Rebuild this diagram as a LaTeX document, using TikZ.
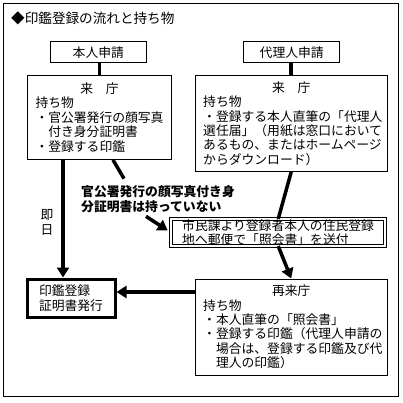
\documentclass[tikz,border=0pt]{standalone}
\usepackage{fontspec}
\setmainfont{Noto Sans CJK JP}
\usetikzlibrary{arrows.meta, positioning, calc}
\tikzset{
	apply/.style ={rectangle, draw=black, line width=1pt, minimum width=96pt, minimum height=21pt, inner sep=0pt},
	visit/.style ={rectangle, draw=black, line width=1pt, align=left, inner xsep=8pt, inner ysep=0pt},
	result/.style={rectangle, draw=black, line width=3pt, minimum width=88pt, minimum height=38pt, align=left, inner sep=0pt},
	notice/.style={rectangle, draw=black, line width=0.9pt, double, double distance=2pt, text width=192pt, inner xsep=11pt, inner ysep=0pt, minimum height=23pt, align=left},
	remark/.style={align=left, inner sep=0pt, font=\fontsize{12.8pt}{15pt}\selectfont\bfseries},
	link/.style  ={line width=3.5pt},
	flow/.style  ={line width=3.5pt, -{Triangle[length=10pt, width=12pt]}},
}

\begin{document}
\begin{tikzpicture}[x=1pt, y=-1pt, font=\fontsize{12.8pt}{14.4pt}\selectfont]
	\useasboundingbox (0,0) rectangle (402,403);
	% ---------- frame and title ----------
	\draw[line width=1pt] (3.5,3.5) rectangle (398.5,396.5);
	\node[anchor=west, inner sep=0pt, font=\fontsize{13.6pt}{16pt}\selectfont] (title) at (11,18) {◆印鑑登録の流れと持ち物};
	% ---------- applications ----------
	\node[apply] (selfapp) at (98.3,52.2) {本人申請};
	\node[apply] (proxyapp) at (291.7,52.5) {代理人申請};
	% ---------- first visit ----------
	\node[visit, text width=128pt, minimum height=84pt] (visitL) at (99.5,117.4)
		{\hfill 来　庁\hfill\mbox{}\\持ち物\\・官公署発行の顔写真\\　付き身分証明書\\・登録する印鑑};
	\node[visit, text width=176pt, minimum height=96pt] (visitR) at (291.2,123.5)
		{\hfill 来　庁\hfill\mbox{}\\持ち物\\・登録する本人直筆の「代理人\\選任届」（用紙は窓口において\\あるもの、またはホームページ\\からダウンロード）};
	% ---------- no photo ID ----------
	\node[remark, anchor=west] (noid) at (81,199.5) {官公署発行の顔写真付き身\\分証明書は持っていない};
	\node[notice] (inquiry) at (278.2,232.5) {市民課より登録者本人の住民登録\\地へ郵便で「照会書」を送付};
	% ---------- second visit and result ----------
	\node[result] (regcert) at (71,298) {印鑑登録\\証明書発行};
	\node[visit, text width=176pt, minimum height=96pt] (revisit) at (291.2,327)
		{\hfill 再来庁\hfill\mbox{}\\持ち物\\・本人直筆の「照会書」\\・登録する印鑑（代理人申請の\\　場合は、登録する印鑑及び代\\　理人の印鑑）};
	\node[align=center, inner sep=0pt] (sameday) at (47,222.5) {即\\日};
	% ---------- connectors ----------
	\draw[link] (visitL.north) -- (visitL.north |- selfapp.south);
	\draw[link] (visitR.north) -- (visitR.north |- proxyapp.south);
	\draw[flow] (63,0 |- visitL.south) -- (63,0 |- regcert.north);
	\draw[link] ($(visitL.south west)+(86,0)$) -- ($(noid.north west)+(43,-7)$);
	\draw[flow] ($(noid.south west)+(65,3)$) -- ($(inquiry.west)+(-3,-2)$);
	\draw[link] (visitR.south) -- (inquiry.north);
	\draw[flow] (inquiry.south) -- (revisit.north);
	\draw[flow] (revisit.west |- 0,292) -- (regcert.east |- 0,292);
\end{tikzpicture}
\end{document}
